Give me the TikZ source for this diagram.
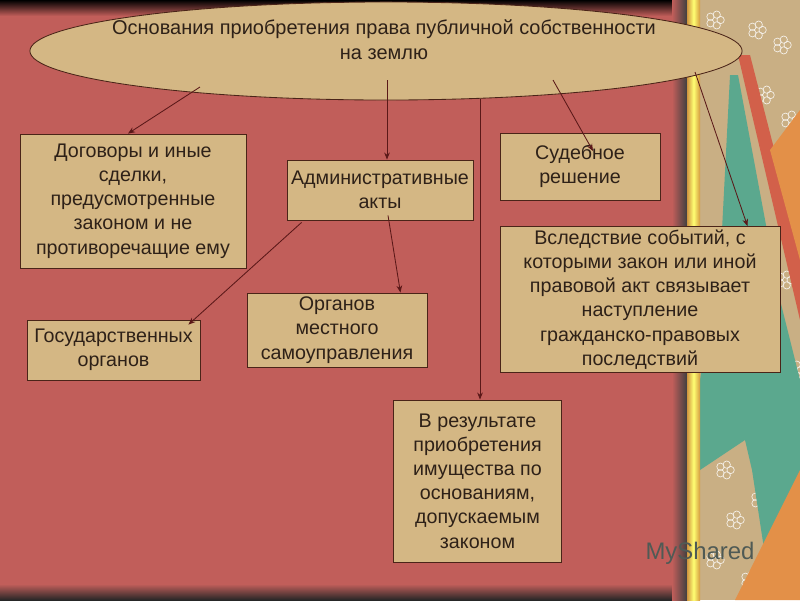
\documentclass[tikz,border=0pt]{standalone}
\usepackage{fontspec}
\setmainfont{Liberation Sans}
\usetikzlibrary{shapes.geometric,arrows.meta}
\definecolor{panel}{HTML}{C15E5A}
\definecolor{boxfill}{HTML}{D4B784}
\definecolor{boxline}{HTML}{4A2418}
\definecolor{arrowc}{HTML}{5A1818}
\definecolor{inktext}{HTML}{2E2118}
\definecolor{khaki}{HTML}{C9AF84}
\definecolor{stripgreen}{HTML}{5BA88E}
\definecolor{stripred}{HTML}{D2604A}
\definecolor{striporange}{HTML}{E39048}
\definecolor{gold}{HTML}{D9A040}
\definecolor{markc}{HTML}{4F5A55}

\begin{document}
\begin{tikzpicture}[x=0.025cm,y=-0.025cm,
  box/.style={draw=boxline,fill=boxfill,line width=0.6pt,inner sep=0pt,
    align=center,text=inktext,font=\fontsize{14}{17.2}\selectfont},
  arr/.style={draw=arrowc,line width=0.6pt,-{Stealth[length=5pt,width=4pt]}}]
        \useasboundingbox (0,0) rectangle (800,600);
        % background
        \fill[panel] (0,0) rectangle (800,600);
        \shade[top color=black,bottom color=panel] (0,0) rectangle (687,16);
        \shade[top color=panel,bottom color=black!85] (0,584) rectangle (687,600);
        \shade[left color=panel,right color=black!75] (672,0) rectangle (687,600);
        \fill[khaki] (700,0) rectangle (800,600);
        \foreach \fx/\fy in {757/30,782/45,765/95,790/120,775/160,795/205,760/240,
                            785/280,770/330,795/370,720/400,745/430,725/470,
                            760/500,735/520,780/545,715/560,750/580,715/20,718/300}
          \foreach \a in {0,72,...,288}
            \draw[white!80!khaki,line width=0.5pt] (\fx,\fy) ++(\a:4pt) circle[radius=2.6pt];
        \fill[stripgreen] (730,75) -- (738,75) -- (780,300) -- (800,380) -- (800,560)
          -- (768,575) -- (752,470) -- (745,440) -- (700,470) -- (700,380) -- (722,230) -- cycle;
        \fill[stripred] (738,55) -- (750,55) -- (800,250) -- (800,320) -- cycle;
        \fill[striporange] (770,150) -- (800,110) -- (800,260) -- cycle;
        \fill[striporange] (735,600) -- (800,470) -- (800,600) -- cycle;
        \shade[left color=gold!70!brown,right color=gold!80!brown,middle color=yellow!55]
          (687,0) rectangle (700,600);
        % nodes
        \node[ellipse,draw=boxline,fill=boxfill,line width=0.6pt,inner sep=0pt,
          minimum width=17.8cm,minimum height=2.45cm] (base) at (386,51) {};
        \node[text=inktext,align=center,font=\fontsize{14.2}{17.8}\selectfont] (title) at (384,40)
          {Основания приобретения права публичной собственности\\на землю};
        \node[box,minimum width=5.65cm,minimum height=3.35cm] (dog) at (133,201)
          {Договоры и иные\\сделки,\\предусмотренные\\законом и не\\противоречащие ему};
        \node[box,minimum width=4.65cm,minimum height=1.5cm] (adm) at (380,190)
          {Административные\\акты};
        \node[box,minimum width=4cm,minimum height=1.675cm] (sud) at (580,166.5)
          {Судебное\\решение};
        \node[box,minimum width=7cm,minimum height=3.65cm] (vsl) at (640,299.5)
          {Вследствие событий, с\\которыми закон или иной\\правовой акт связывает\\наступление\\гражданско-правовых\\последствий};
        \node[box,minimum width=4.325cm,minimum height=1.5cm] (gos) at (113.5,350)
          {Государственных\\органов};
        \node[box,minimum width=4.5cm,minimum height=1.85cm] (mest) at (337,330)
          {Органов\\местного\\самоуправления};
        \node[box,minimum width=4.2cm,minimum height=4.05cm] (rez) at (477.5,481)
          {В результате\\приобретения\\имущества по\\основаниям,\\допускаемым\\законом};
        \node[text=markc,font=\fontsize{17}{17}\selectfont] (mark) at (700,553) {MyShared};
        % connectors
        \coordinate (s1) at (200,87);
        \coordinate (s2) at (387,80);
        \coordinate (s3) at (480,99);
        \coordinate (s4) at (553,80);
        \coordinate (t4) at (593,151);
        \coordinate (s5) at (695,72);
        \draw[arr] (s1) -- ([shift={(-5,0)}]dog.north);
        \draw[arr] (s2) -- (s2 |- adm.north);
        \draw[arr] (s3) -- (s3 |- rez.north);
        \draw[arr] (s4) -- (t4);
        \draw[arr] (s5) -- ([shift={(-33,0)}]vsl.north east);
        \draw[arr] ([shift={(15,2)}]adm.south west) -- ([shift={(-12,5)}]gos.north east);
        \draw[arr] ([shift={(8,-5)}]adm.south) -- ([shift={(-27,0)}]mest.north east);
\end{tikzpicture}
\end{document}
